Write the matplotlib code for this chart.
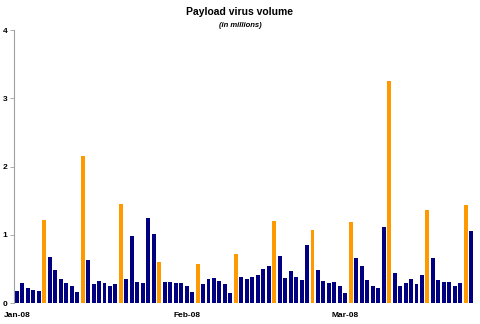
import matplotlib.pyplot as plt
import numpy as np
import pandas as pd

# Daily payload virus volume, in millions, 1 Jan - 24 Mar 2008
dates = pd.date_range("2008-01-01", periods=84, freq="D")
volume = [
    0.18, 0.29, 0.23, 0.19, 0.18, 1.22, 0.68, 0.48, 0.35, 0.29, 0.26, 0.16,
    2.15, 0.64, 0.28, 0.32, 0.29, 0.25, 0.28, 1.45, 0.35, 0.98, 0.31, 0.30,
    1.25, 1.02, 0.61, 0.31, 0.31, 0.30, 0.30, 0.25, 0.17, 0.58, 0.28, 0.35,
    0.37, 0.33, 0.28, 0.15, 0.72, 0.39, 0.35, 0.39, 0.42, 0.50, 0.54, 1.21,
    0.69, 0.37, 0.47, 0.38, 0.34, 0.85, 1.08, 0.49, 0.33, 0.29, 0.31, 0.25,
    0.15, 1.19, 0.66, 0.55, 0.34, 0.26, 0.22, 1.12, 3.25, 0.44, 0.25, 0.30,
    0.35, 0.28, 0.41, 1.37, 0.66, 0.34, 0.31, 0.31, 0.25, 0.29, 1.44, 1.06,
]
month_labels = ["Jan-08", "Feb-08", "Mar-08"]
y_ticks = [0, 1, 2, 3, 4]

navy = "#000080"
orange = "#FF9900"

x = np.arange(len(dates))
# Sundays stand out in orange
colors = [orange if d.dayofweek == 6 else navy for d in dates]
month_pos = [i for i, d in enumerate(dates) if d.day == 1]

fig = plt.figure(figsize=(4.8, 3.24), dpi=100)
ax = fig.add_axes([0.030, 0.064, 0.957, 0.843])

ax.bar(x, volume, width=0.72, color=colors, edgecolor="none")

ax.set_xlim(-0.46, len(x) - 0.54)
ax.set_ylim(0, 4)
ax.set_yticks(y_ticks)
ax.set_yticklabels([str(t) for t in y_ticks], fontsize=6, fontweight="bold",
                   family="Liberation Sans")
ax.set_xticks(month_pos)
ax.set_xticklabels(month_labels, fontsize=6, fontweight="bold",
                   family="Liberation Sans")

for side in ["top", "right", "bottom"]:
    ax.spines[side].set_visible(False)
ax.spines["left"].set_color("#a0a0a0")
ax.spines["left"].set_linewidth(0.8)
ax.tick_params(axis="y", length=3, width=0.6, color="#a0a0a0", pad=2)
ax.tick_params(axis="x", length=0, pad=6)

fig.text(0.5, 0.962, "Payload virus volume", ha="center", va="center",
         fontsize=7.5, fontweight="bold", family="Liberation Sans")
fig.text(0.5, 0.922, "(in millions)", ha="center", va="center",
         fontsize=5.5, fontweight="bold", style="italic", family="Liberation Sans")

fig.savefig("out.png", dpi=100)
